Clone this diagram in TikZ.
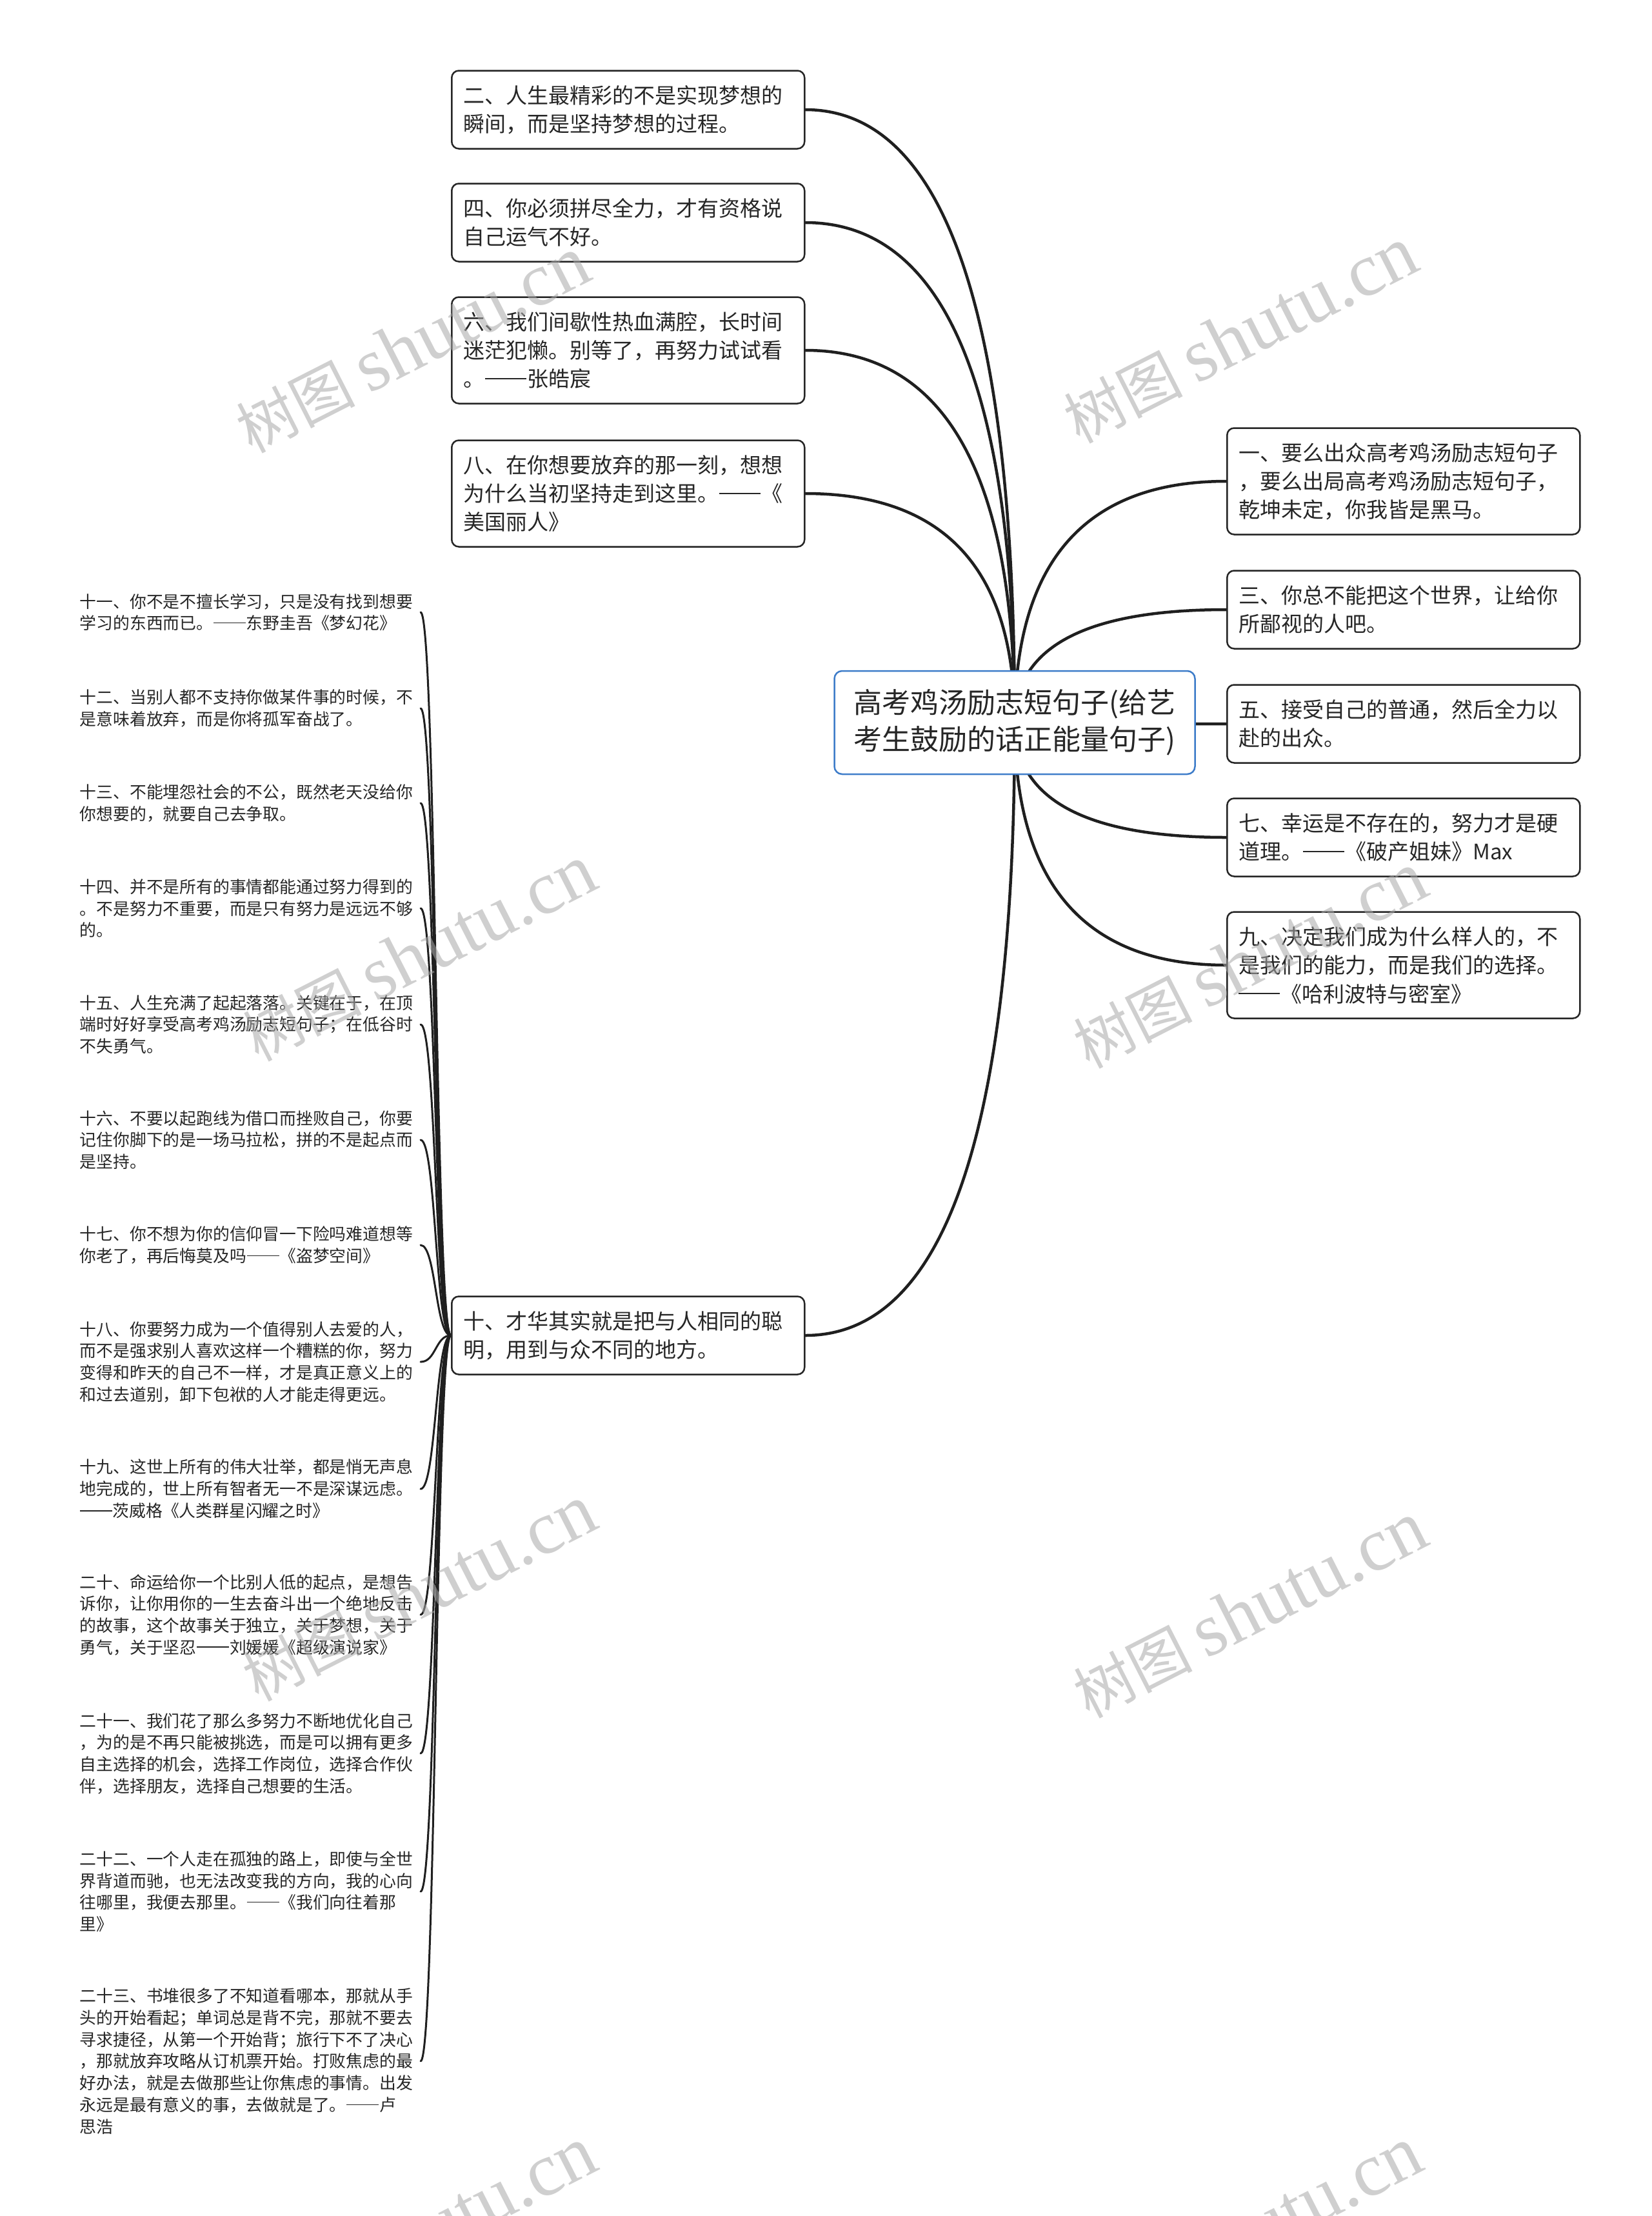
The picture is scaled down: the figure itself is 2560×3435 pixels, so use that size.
\documentclass[tikz,border=0pt]{standalone}
\usepackage{fontspec}
\setmainfont{Noto Sans CJK SC}
\newfontfamily\wmserif{Liberation Serif}
\usetikzlibrary{calc,backgrounds}
\definecolor{ink}{HTML}{262626}
\definecolor{edge}{HTML}{1F1F1F}
\definecolor{rootblue}{HTML}{3D7CC9}
\definecolor{wmgray}{HTML}{A8A8A8}
\newcommand{\cjkdash}{\kern0.03em\rule[0.36em]{1.94em}{0.055em}\kern0.03em}
\begin{document}
\begin{tikzpicture}[x=1pt,y=-1pt,
  every node/.style={text=ink},
  topic/.style={draw=ink, line width=2.5pt, rounded corners=11pt, fill=white, align=left, text width=511pt, inner xsep=18pt, inner ysep=6pt, font=\fontsize{33pt}{44pt}\selectfont, minimum height=121pt, anchor=west},
  tall/.style={minimum height=165pt},
  rootbox/.style={draw=rootblue, line width=2.5pt, rounded corners=12pt, fill=white, align=center, minimum width=559pt, minimum height=160pt, font=\fontsize{44pt}{57pt}\selectfont},
  leaf/.style={align=left, text width=520pt, inner xsep=8pt, inner ysep=0pt, font=\fontsize{25.8pt}{33.7pt}\selectfont, anchor=east},
  mainedge/.style={draw=edge, line width=4.5pt, line cap=round},
  leafedge/.style={draw=edge, line width=3pt, line cap=round},
  hquad/.style={to path={.. controls ($(\tikztostart)!0.667!(\tikztostart |- \tikztotarget)$) and ($(\tikztotarget)!0.667!(\tikztostart |- \tikztotarget)$) .. (\tikztotarget)}},
  sbend/.style={to path={.. controls +(-24,0) and +(24,0) .. (\tikztotarget)}},
  wmark/.style={text=wmgray, opacity=0.55, rotate=27, inner sep=0pt}
]
\useasboundingbox (0,0) rectangle (2560,3435);

% root
\node[rootbox] (root) at (1573,1120) {高考鸡汤励志短句子(给艺\\考生鼓励的话正能量句子)};

% left topics
\node[topic] (n2) at (699,170) {二、人生最精彩的不是实现梦想的\\瞬间，而是坚持梦想的过程。};
\node[topic] (n4) at (699,345) {四、你必须拼尽全力，才有资格说\\自己运气不好。};
\node[topic,tall] (n6) at (699,543) {六、我们间歇性热血满腔，长时间\\迷茫犯懒。别等了，再努力试试看\\。\cjkdash{}张皓宸};
\node[topic,tall] (n8) at (699,765) {八、在你想要放弃的那一刻，想想\\为什么当初坚持走到这里。\cjkdash{}《\\美国丽人》};
\node[topic] (n10) at (699,2070) {十、才华其实就是把与人相同的聪\\明，用到与众不同的地方。};

% right topics
\node[topic,tall] (n1) at (1901,746) {一、要么出众高考鸡汤励志短句子\\，要么出局高考鸡汤励志短句子，\\乾坤未定，你我皆是黑马。};
\node[topic] (n3) at (1901,945) {三、你总不能把这个世界，让给你\\所鄙视的人吧。};
\node[topic] (n5) at (1901,1122) {五、接受自己的普通，然后全力以\\赴的出众。};
\node[topic] (n7) at (1901,1298) {七、幸运是不存在的，努力才是硬\\道理。\cjkdash{}《破产姐妹》Max};
\node[topic,tall] (n9) at (1901,1496) {九、决定我们成为什么样人的，不\\是我们的能力，而是我们的选择。\\\cjkdash{}《哈利波特与密室》};

% leaves
\node[leaf] (l11) at (652,949) {十一、你不是不擅长学习，只是没有找到想要\\学习的东西而已。\cjkdash{}东野圭吾《梦幻花》};
\node[leaf] (l12) at (652,1098) {十二、当别人都不支持你做某件事的时候，不\\是意味着放弃，而是你将孤军奋战了。};
\node[leaf] (l13) at (652,1245) {十三、不能埋怨社会的不公，既然老天没给你\\你想要的，就要自己去争取。};
\node[leaf] (l14) at (652,1408) {十四、并不是所有的事情都能通过努力得到的\\。不是努力不重要，而是只有努力是远远不够\\的。};
\node[leaf] (l15) at (652,1588) {十五、人生充满了起起落落。关键在于，在顶\\端时好好享受高考鸡汤励志短句子；在低谷时\\不失勇气。};
\node[leaf] (l16) at (652,1767) {十六、不要以起跑线为借口而挫败自己，你要\\记住你脚下的是一场马拉松，拼的不是起点而\\是坚持。};
\node[leaf] (l17) at (652,1930) {十七、你不想为你的信仰冒一下险吗难道想等\\你老了，再后悔莫及吗\cjkdash{}《盗梦空间》};
\node[leaf] (l18) at (652,2111) {十八、你要努力成为一个值得别人去爱的人，\\而不是强求别人喜欢这样一个糟糕的你，努力\\变得和昨天的自己不一样，才是真正意义上的\\和过去道别，卸下包袱的人才能走得更远。};
\node[leaf] (l19) at (652,2308) {十九、这世上所有的伟大壮举，都是悄无声息\\地完成的，世上所有智者无一不是深谋远虑。\\\cjkdash{}茨威格《人类群星闪耀之时》};
\node[leaf] (l20) at (652,2503) {二十、命运给你一个比别人低的起点，是想告\\诉你，让你用你的一生去奋斗出一个绝地反击\\的故事，这个故事关于独立，关于梦想，关于\\勇气，关于坚忍\cjkdash{}刘媛媛《超级演说家》};
\node[leaf] (l21) at (652,2718) {二十一、我们花了那么多努力不断地优化自己\\，为的是不再只能被挑选，而是可以拥有更多\\自主选择的机会，选择工作岗位，选择合作伙\\伴，选择朋友，选择自己想要的生活。};
\node[leaf] (l22) at (652,2932) {二十二、一个人走在孤独的路上，即使与全世\\界背道而驰，也无法改变我的方向，我的心向\\往哪里，我便去那里。\cjkdash{}《我们向往着那\\里》};
\node[leaf] (l23) at (652,3195) {二十三、书堆很多了不知道看哪本，那就从手\\头的开始看起；单词总是背不完，那就不要去\\寻求捷径，从第一个开始背；旅行下不了决心\\，那就放弃攻略从订机票开始。打败焦虑的最\\好办法，就是去做那些让你焦虑的事情。出发\\永远是最有意义的事，去做就是了。\cjkdash{}卢\\思浩};

\begin{scope}[on background layer]
  \fill[white] (0,0) rectangle (2560,3435);
  \foreach \t in {n2,n4,n6,n8,n10}
    \draw[mainedge] (root.center) to[hquad] (\t.east);
  \foreach \t in {n1,n3,n5,n7,n9}
    \draw[mainedge] (root.center) to[hquad] (\t.west);
  \foreach \t in {l11,l12,l13,l14,l15,l16,l17,l18,l19,l20,l21,l22,l23}
    \draw[leafedge] (n10.west) to[sbend] (\t.east);
\end{scope}

% watermarks
\begin{scope}
  \clip (0,0) rectangle (2560,3435);
  \foreach \wx/\wy in {640/535, 1923/520, 650/1478, 1938/1489, 650/2470, 1938/2496, 650/3465, 1930/3465}
    \node[wmark] at (\wx,\wy) {\fontsize{92pt}{92pt}\selectfont 树图\hspace{20pt}{\wmserif\fontsize{117pt}{117pt}\selectfont shutu.cn}};
\end{scope}
\end{tikzpicture}
\end{document}
